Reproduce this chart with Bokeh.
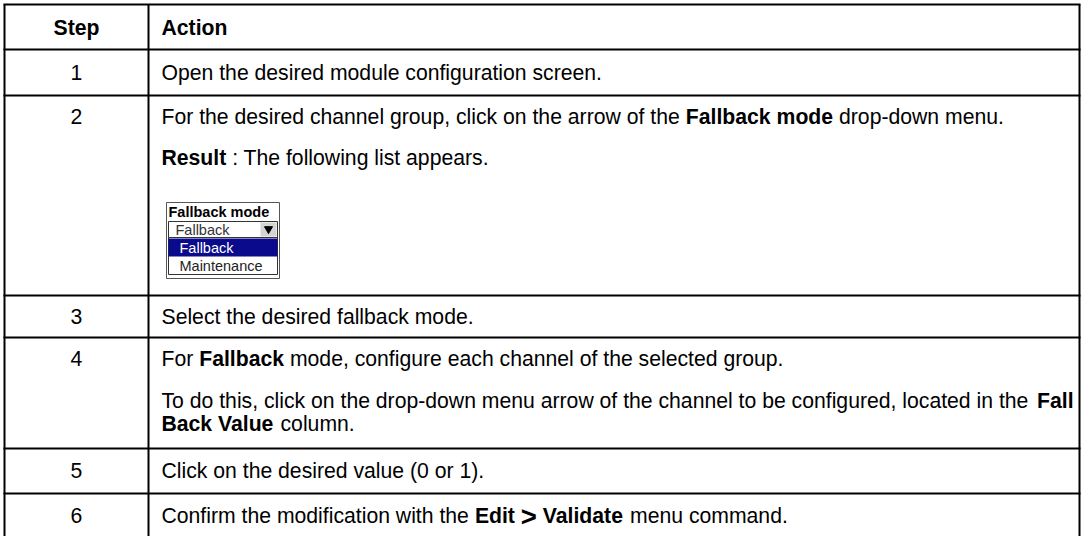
from bokeh.plotting import figure
from bokeh.models import Range1d
from bokeh.core.properties import value
from bokeh.embed import file_html
from bokeh.resources import INLINE

# ---------------- data ----------------
HEADERS = ["Step", "Action"]
STEPS = ["1", "2", "3", "4", "5", "6"]
# each action: list of text lines; each line: list of (text, bold, scale)
ACTIONS = [
    [[("Open the desired module configuration screen.", False, 1.0)]],
    [[("For the desired channel group, click on the arrow of the ", False, 1.0),
      ("Fallback mode", True, 1.0), (" drop-down menu.", False, 1.0)],
     [("Result", True, 1.0), (" : The following list appears.", False, 1.0)]],
    [[("Select the desired fallback mode.", False, 1.0)]],
    [[("For ", False, 1.0), ("Fallback", True, 1.0),
      (" mode, configure each channel of the selected group.", False, 1.0)],
     [("To do this, click on the drop-down menu arrow of the channel to be configured, located in the ", False, 1.0),
      ("Fall", True, 1.0)],
     [("Back Value", True, 1.0), (" column.", False, 1.0)]],
    [[("Click on the desired value (0 or 1).", False, 1.0)]],
    [[("Confirm the modification with the ", False, 1.0), ("Edit", True, 1.0), (" ", False, 1.0),
      (">", True, 1.3), (" ", False, 1.0), ("Validate", True, 1.0), (" menu command.", False, 1.0)]],
]
DROPDOWN_TITLE = "Fallback mode"
DROPDOWN_CURRENT = "Fallback"
DROPDOWN_OPTIONS = ["Fallback", "Maintenance"]
DROPDOWN_SELECTED = 0

# ---------------- layout ----------------
W, H = 1081, 536
FONT = "Liberation Sans"
FS = 21.2
X_LEFT, X_COL, X_RIGHT = 4, 148, 1079
ROW_LINES = [4, 49, 95, 295, 337, 448, 493, 540]
HEADER_Y = 27
LINE_Y = [[72], [116, 157], [316], [358, 400, 423], [470], [515]]
TEXT_X = 161
DD = dict(left=166, right=279, top=202, bottom=278)

REG = {' ': 278, '!': 278, '(': 333, ')': 333, ',': 278, '-': 333, '.': 278, ':': 278, '>': 584}
BOLD = {' ': 278, ',': 278, '-': 333, '.': 278, ':': 333, '>': 584}
for d in "0123456789":
    REG[d] = 556
    BOLD[d] = 556
REG.update(dict(zip("ABCDEFGHIJKLMNOPQRSTUVWXYZ",
                    [667, 667, 722, 722, 667, 611, 778, 722, 278, 500, 667, 556, 833, 722, 778, 667, 778, 722, 667, 611, 722, 667, 944, 667, 667, 611])))
REG.update(dict(zip("abcdefghijklmnopqrstuvwxyz",
                    [556, 556, 500, 556, 556, 278, 556, 556, 222, 222, 500, 222, 833, 556, 556, 556, 556, 333, 500, 278, 556, 500, 722, 500, 500, 500])))
BOLD.update(dict(zip("ABCDEFGHIJKLMNOPQRSTUVWXYZ",
                     [722, 722, 722, 722, 667, 611, 778, 722, 278, 556, 722, 611, 833, 722, 778, 667, 778, 722, 667, 611, 722, 667, 944, 667, 667, 611])))
BOLD.update(dict(zip("abcdefghijklmnopqrstuvwxyz",
                     [556, 611, 556, 611, 556, 333, 611, 611, 278, 278, 556, 278, 889, 611, 611, 611, 611, 389, 556, 333, 611, 556, 778, 556, 556, 500])))


def text_width(s, bold, size):
    table = BOLD if bold else REG
    return sum(table.get(c, 556) for c in s) * size / 1000.0


p = figure(width=W, height=H, output_backend="svg", toolbar_location=None,
           x_range=Range1d(0, W), y_range=Range1d(H, 0),
           x_axis_type=None, y_axis_type=None, min_border=0)
p.grid.visible = False
p.outline_line_color = None
p.background_fill_color = "white"
p.border_fill_color = "white"

# table lines
p.segment(x0=[X_LEFT - 1] * len(ROW_LINES), x1=[X_RIGHT + 1] * len(ROW_LINES),
          y0=ROW_LINES, y1=ROW_LINES, line_color="black", line_width=2)
p.segment(x0=[X_LEFT, X_COL, X_RIGHT], x1=[X_LEFT, X_COL, X_RIGHT],
          y0=[ROW_LINES[0]] * 3, y1=[ROW_LINES[-1]] * 3, line_color="black", line_width=2)

# header
p.text(x=[(X_LEFT + X_COL) / 2], y=[HEADER_Y], text=[HEADERS[0]], text_align="center",
       text_baseline="middle", text_font=value(FONT), text_font_size=f"{FS}px",
       text_font_style="bold", text_color="black")
p.text(x=[TEXT_X], y=[HEADER_Y], text=[HEADERS[1]], text_align="left",
       text_baseline="middle", text_font=value(FONT), text_font_size=f"{FS}px",
       text_font_style="bold", text_color="black")

# step numbers
p.text(x=[(X_LEFT + X_COL) / 2] * len(STEPS), y=[ys[0] for ys in LINE_Y], text=STEPS,
       text_align="center", text_baseline="middle", text_font=value(FONT),
       text_font_size=f"{FS}px", text_color="black")

# action text with inline bold
for lines, ys in zip(ACTIONS, LINE_Y):
    for segs, y in zip(lines, ys):
        x = TEXT_X
        for txt, bold, sc in segs:
            size = FS * sc
            lead = len(txt) - len(txt.lstrip(" "))
            core = txt.strip(" ")
            if core:
                xs = x + text_width(" " * lead, bold, FS)
                p.text(x=[xs], y=[y + (1.0 if sc > 1 else 0.0)], text=[core], text_align="left",
                       text_baseline="middle", text_font=value(FONT),
                       text_font_size=f"{size}px",
                       text_font_style="bold" if bold else "normal", text_color="black")
            x += text_width(txt, bold, size)

# dropdown illustration (row 2)
L, R, T, B = DD["left"], DD["right"], DD["top"], DD["bottom"]
p.quad(left=[L], right=[R], top=[T], bottom=[B], fill_color="white",
       line_color="#555555", line_width=1)
p.text(x=[L + 2], y=[T + 9], text=[DROPDOWN_TITLE], text_align="left", text_baseline="middle",
       text_font=value(FONT), text_font_size="14.5px", text_font_style="bold", text_color="black")
# combo box
p.quad(left=[L + 2], right=[R - 2], top=[T + 19], bottom=[T + 35], fill_color="white",
       line_color="#333333", line_width=1)
p.quad(left=[R - 19], right=[R - 3], top=[T + 20], bottom=[T + 34], fill_color="#d4d4d4",
       line_color=None)
p.scatter(x=[R - 11], y=[T + 26.5], marker="inverted_triangle", size=8,
          fill_color="black", line_color="black")
p.text(x=[L + 9], y=[T + 27], text=[DROPDOWN_CURRENT], text_align="left", text_baseline="middle",
       text_font=value(FONT), text_font_size="14.5px", text_color="#333333")
# list
p.quad(left=[L + 2], right=[R - 2], top=[T + 35], bottom=[T + 72], fill_color="white",
       line_color="#333333", line_width=1)
row_h = 18
for i, opt in enumerate(DROPDOWN_OPTIONS):
    top = T + 36 + i * row_h
    sel = i == DROPDOWN_SELECTED
    if sel:
        p.quad(left=[L + 2], right=[R - 2], top=[top], bottom=[top + row_h],
               fill_color="#0a0a8c", line_color=None)
    p.text(x=[L + 13], y=[top + row_h / 2 + 0.5], text=[opt], text_align="left",
           text_baseline="middle", text_font=value(FONT), text_font_size="14.5px",
           text_color="white" if sel else "#222222")

open("out.html", "w").write(file_html(p, INLINE))
